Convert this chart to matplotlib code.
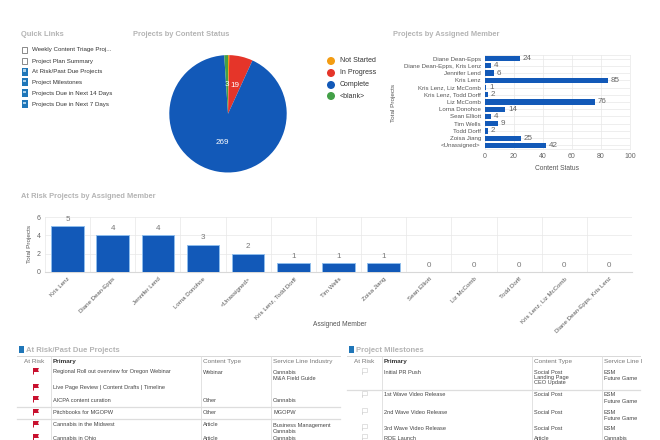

import matplotlib
matplotlib.use("Agg")
from matplotlib import pyplot as plt
from matplotlib.patches import Rectangle, Polygon, Circle

plt.rcParams['font.family'] = ['Liberation Sans', 'DejaVu Sans']

W, H = 660, 440
BLUE = '#1259b8'
TITLE_GREY = '#b4b4b4'
TEXT = '#444444'
GRID = '#e8e8e8'

quick_links = ["Weekly Content Triage Proj...", "Project Plan Summary", "At Risk/Past Due Projects",
               "Project Milestones", "Projects Due in Next 14 Days", "Projects Due in Next 7 Days"]
quick_blue = [False, False, True, True, True, True]

status_names = ["Not Started", "In Progress", "Complete", "<blank>"]
status_values = [1, 19, 269, 3]
status_labels = ["", "19", "269", "3"]
status_colors = ['#f39c12', '#e53529', BLUE, '#43a047']

member_names = ["Diane Dean-Epps", "Diane Dean-Epps, Kris Lenz", "Jennifer Lend", "Kris Lenz",
                "Kris Lenz, Liz McComb", "Kris Lenz, Todd Dorff", "Liz McComb", "Lorna Donohoe",
                "Sean Elliott", "Tim Wells", "Todd Dorff", "Zoisa Jiang", "<Unassigned>"]
member_values = [24, 4, 6, 85, 1, 2, 76, 14, 4, 9, 2, 25, 42]

risk_names = ["Kris Lenz", "Diane Dean-Epps", "Jennifer Lend", "Lorna Donohoe", "<Unassigned>",
              "Kris Lenz, Todd Dorff", "Tim Wells", "Zoisa Jiang", "Sean Elliott", "Liz McComb",
              "Todd Dorff", "Kris Lenz, Liz McComb", "Diane Dean-Epps, Kris Lenz"]
risk_values = [5, 4, 4, 3, 2, 1, 1, 1, 0, 0, 0, 0, 0]

left_cols = ["At Risk", "Primary", "Content Type", "Service Line Industry"]
right_cols = ["At Risk", "Primary", "Content Type", "Service Line I"]
left_rows = [
    ("Regional Roll out overview for Oregon Webinar", "Webinar", "Cannabis\nM&A Field Guide", 372),
    ("Live Page Review | Content Drafts | Timeline", "", "", 388),
    ("AICPA content curation", "Other", "Cannabis", 400),
    ("Pitchbooks for MGOPW", "Other", "MGOPW", 413),
    ("Cannabis in the Midwest", "Article", "Business Management\nCannabis", 425),
    ("Cannabis in Ohio", "Article", "Cannabis", 438),
]
right_rows = [
    ("Initial PR Push", "Social Post\nLanding Page\nCEO Update", "ESM\nFuture Game", 372),
    ("1st Wave Video Release", "Social Post", "ESM\nFuture Game", 395),
    ("2nd Wave Video Release", "Social Post", "ESM\nFuture Game", 412),
    ("3rd Wave Video Release", "Social Post", "ESM", 428),
    ("RDE Launch", "Article", "Cannabis", 438),
]


def px_axes(x0, y0, x1, y1):
    return fig.add_axes([x0 / W, 1 - y1 / H, (x1 - x0) / W, (y1 - y0) / H])


fig = plt.figure(figsize=(6.6, 4.4), dpi=100)

# page layer in pixel coordinates for titles, links and tables
page = fig.add_axes([0, 0, 1, 1])
page.set_xlim(0, W)
page.set_ylim(H, 0)
page.axis('off')

for x, y, t in [(21, 34, "Quick Links"), (133, 34, "Projects by Content Status"),
                (393, 34, "Projects by Assigned Member"), (21, 196, "At Risk Projects by Assigned Member")]:
    page.text(x, y, t, fontsize=5.4, fontweight='bold', color=TITLE_GREY, va='center')


def doc_icon(x, y, filled):
    if filled:
        page.add_patch(Rectangle((x, y - 4), 5.5, 8, fc='#1f76b8', ec='none'))
        page.add_patch(Rectangle((x + 1.2, y - 2.5), 3, 2.5, fc='#a9cfe9', ec='none'))
    else:
        page.add_patch(Rectangle((x, y - 3), 4.5, 6, fc='white', ec='#777777', lw=0.6))


for i, (name, filled) in enumerate(zip(quick_links, quick_blue)):
    y = [50, 61, 72, 82.5, 93.5, 104.5][i]
    doc_icon(22, y, filled)
    page.text(32, y, name, fontsize=4.45, color='#333333', va='center')

# pie legend
for name, color, y in zip(status_names, status_colors, [61, 73, 85, 96]):
    page.add_patch(Circle((331, y), 4, fc=color, ec='none'))
    page.text(340, y, name, fontsize=5, color='#333333', va='center')

# pie
ax_pie = px_axes(228 - 58.7, 113.8 - 58.7, 228 + 58.7, 113.8 + 58.7)
_, pie_texts = ax_pie.pie(status_values, colors=status_colors, labels=status_labels, startangle=90,
                          counterclock=False, radius=1, labeldistance=0.5,
                          textprops=dict(color='white', fontsize=5.8))
for t in pie_texts:
    t.set_ha('center')
ax_pie.set_xlim(-1, 1)
ax_pie.set_ylim(-1, 1)

# horizontal bars
ax_m = px_axes(485, 55, 630, 149)
ax_m.barh(range(len(member_names)), member_values, height=0.72, color=BLUE, zorder=3)
ax_m.set_xlim(0, 100)
ax_m.set_ylim(len(member_names) - 0.5, -0.5)
ax_m.set_yticks(range(len(member_names)))
ax_m.set_yticklabels(member_names, fontsize=4.4, color='#555555')
ax_m.set_xticks([0, 20, 40, 60, 80, 100])
ax_m.tick_params(axis='x', labelsize=5, colors='#666666', length=0, pad=3)
ax_m.tick_params(axis='y', length=0, pad=3)
ax_m.grid(True, color=GRID, lw=0.5, zorder=0)
for s in ax_m.spines.values():
    s.set_color(GRID)
    s.set_linewidth(0.5)
for i, v in enumerate(member_values):
    ax_m.text(v + 1.9, i, str(v), fontsize=5.8, color='#666666', va='center')
page.text(394, 103, "Total Projects", fontsize=4.6, color='#555555', rotation=90, ha='center', va='center')
page.text(557, 169, "Content Status", fontsize=4.8, color='#555555', ha='center', va='center')

# lower column chart
ax_r = px_axes(45, 217, 632, 272)
ax_r.bar(range(len(risk_names)), risk_values, width=0.72, color=BLUE, edgecolor='#8fbdec', linewidth=0.7, zorder=3)
ax_r.set_xlim(-0.5, len(risk_names) - 0.5)
ax_r.set_ylim(0, 6)
ax_r.set_yticks([0, 2, 4, 6])
ax_r.set_xticks(range(len(risk_names)))
ax_r.set_xticklabels(risk_names, fontsize=4.4, color='#555555', rotation=45, ha='right', rotation_mode='anchor')
ax_r.tick_params(axis='y', labelsize=5, colors='#666666', length=0, pad=3)
ax_r.tick_params(axis='x', length=0, pad=3)
ax_r.grid(True, axis='y', color=GRID, lw=0.5, zorder=0)
for x in range(len(risk_names) + 1):
    ax_r.axvline(x - 0.5, color=GRID, lw=0.5, zorder=0)
for s in ['top', 'right', 'left']:
    ax_r.spines[s].set_visible(False)
ax_r.spines['bottom'].set_color('#d8d8d8')
for i, v in enumerate(risk_values):
    ax_r.text(i, v + 0.35, str(v), fontsize=5.8, color='#777777', ha='center', va='bottom')
page.text(30, 244, "Total Projects", fontsize=4.6, color='#555555', rotation=90, ha='center', va='center')
page.text(340, 324, "Assigned Member", fontsize=4.8, color='#555555', ha='center', va='center')


def flag(x, y, red):
    if red:
        page.add_patch(Polygon([(x, y - 3), (x + 6, y - 3), (x + 5, y - 1), (x + 6, y + 1), (x + 1, y + 1), (x + 1, y + 3.5), (x, y + 3.5)],
                               fc='#c8102e', ec='none'))
    else:
        page.add_patch(Polygon([(x, y + 3.5), (x, y - 3), (x + 5, y - 3), (x + 5, y + 1), (x, y + 1)],
                               fc='white', ec='#d5d5d5', lw=0.5))


def table(title, title_x, x0, x1, dividers, cols, rows, lines, red, flag_x):
    page.add_patch(Rectangle((title_x, 346), 5, 7, fc='#1f76b8', ec='none'))
    page.text(title_x + 7.5, 350, title, fontsize=5.5, color=TITLE_GREY, fontweight='bold', va='center')
    page.plot([x0, x1], [356, 356], color='#d8d8d8', lw=0.7)
    for x in dividers:
        page.plot([x, x], [356, H], color='#dddddd', lw=0.6)
    for y in lines:
        page.plot([x0, x1], [y, y], color='#dddddd', lw=0.9)
    page.text((x0 + dividers[0]) / 2, 361.5, cols[0], fontsize=4.6, color='#777777', ha='center', va='center')
    page.text(dividers[0] + 2, 361.5, cols[1], fontsize=4.6, color='#333333', fontweight='bold', va='center')
    page.text(dividers[1] + 2, 361.5, cols[2], fontsize=4.6, color='#777777', va='center')
    page.text(dividers[2] + 2, 361.5, cols[3], fontsize=4.6, color='#777777', va='center')
    for primary, ctype, service, y in rows:
        flag(flag_x, y - 1, red)
        page.text(dividers[0] + 2, y - 2.5, primary, fontsize=4.05, color=TEXT, va='top', linespacing=1.1)
        page.text(dividers[1] + 2, y - 2.5, ctype, fontsize=4.05, color=TEXT, va='top', linespacing=1.1)
        page.text(dividers[2] + 2, y - 2.5, service, fontsize=4.05, color=TEXT, va='top', linespacing=1.4)


table("At Risk/Past Due Projects", 19, 17, 340, [51, 201, 271], left_cols, left_rows, [407, 419], True, 33)
table("Project Milestones", 349, 347, 640, [382, 532, 602], right_cols, right_rows, [390], False, 362)

fig.savefig("out.png", dpi=100)
